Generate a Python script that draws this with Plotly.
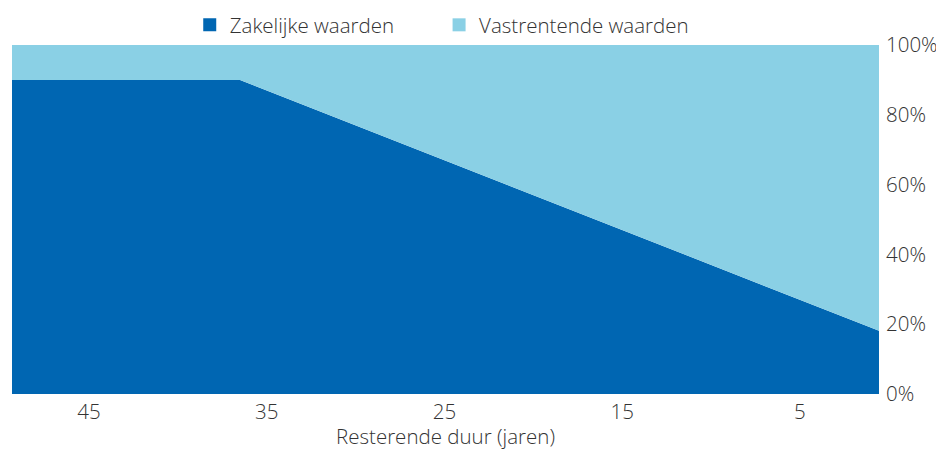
import plotly.graph_objects as go

# Data (x = remaining years, y = share in %)
years = [50, 36.5, 0]
zakelijke = [90, 90, 17]
vastrentende = [10, 10, 83]

series_names = ["Zakelijke waarden", "Vastrentende waarden"]
x_tickvals = [45, 35, 25, 15, 5]
y_tickvals = [0, 20, 40, 60, 80, 100]
y_ticktext = ["0%", "20%", "40%", "60%", "80%", "100%"]

DARK = "#0066B2"
LIGHT = "#8AD0E5"
FONT = "Open Sans"
TXT = "#333333"
FS = 20.5

fig = go.Figure()
for vals, name, col in [(zakelijke, series_names[0], DARK), (vastrentende, series_names[1], LIGHT)]:
    fig.add_trace(go.Scatter(
        x=years, y=vals, name=name, showlegend=False,
        mode="lines", line=dict(width=0, color=col),
        fillcolor=col, stackgroup="one",
    ))
# legend entries with square markers, each in its own legend box
for name, col, lg in [(series_names[0], DARK, "legend"), (series_names[1], LIGHT, "legend2")]:
    fig.add_trace(go.Scatter(
        x=[None], y=[None], name=name, mode="markers", legend=lg,
        marker=dict(symbol="square", size=13, color=col),
    ))

leg_common = dict(
    orientation="h", xanchor="left", y=1.0, yanchor="bottom",
    font=dict(size=FS, color=TXT), bgcolor="rgba(0,0,0,0)",
)
fig.update_layout(
    width=936, height=442,
    margin=dict(l=3.5, r=64.7, t=37, b=56, autoexpand=False),
    plot_bgcolor="white", paper_bgcolor="white",
    font=dict(family=FONT, size=FS, color=TXT, weight=300),
    showlegend=True,
    legend=dict(x=0.205, **leg_common),
    legend2=dict(x=0.4926, **leg_common),
    hovermode=False,
)
fig.update_xaxes(
    range=[49.33, 0.55], tickvals=x_tickvals,
    showgrid=False, zeroline=False, showline=False, ticks="",
    tickfont=dict(size=FS, color=TXT), ticklabelstandoff=3,
    title=dict(text="Resterende duur (jaren)", font=dict(size=FS, color=TXT), standoff=12),
)
fig.update_yaxes(
    range=[0, 100], side="right", tickvals=y_tickvals, ticktext=y_ticktext,
    showgrid=False, zeroline=False, showline=False, ticks="",
    tickfont=dict(size=FS, color=TXT), ticklabelstandoff=6,
)

fig.write_html("out.html")
